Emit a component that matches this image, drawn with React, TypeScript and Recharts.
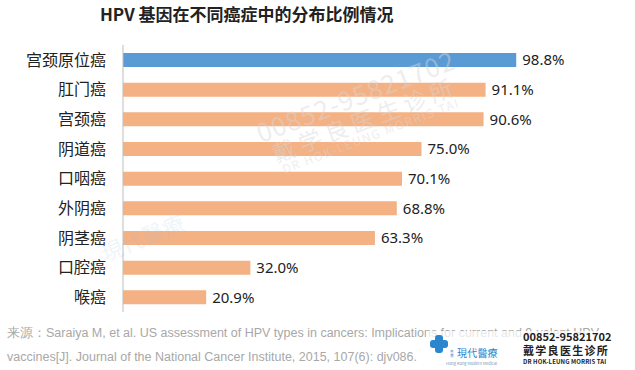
import React from "react";
import { Bar, BarChart, Cell, LabelList, XAxis, YAxis } from "recharts";

const CATEGORIES = ["宫颈原位癌", "肛门癌", "宫颈癌", "阴道癌", "口咽癌", "外阴癌", "阴茎癌", "口腔癌", "喉癌"];
const VALUES = [98.8, 91.1, 90.6, 75.0, 70.1, 68.8, 63.3, 32.0, 20.9];
const HIGHLIGHT = "宫颈原位癌";

const TITLE = "HPV 基因在不同癌症中的分布比例情况";
const SOURCE_LINE1 = "来源：Saraiya M, et al. US assessment of HPV types in cancers: Implications for current and 9-valent HPV";
const SOURCE_LINE2 = "vaccines[J]. Journal of the National Cancer Institute, 2015, 107(6): djv086.";

const BLUE = "#5b9bd5";
const ORANGE = "#f4b183";
const LOGO_BLUE = "#2a86cf";
const CJK = '"Noto Sans CJK SC", "Noto Sans", sans-serif';

const rows = CATEGORIES.map((name, i) => ({ name, value: VALUES[i] }));

const abs = (left: number, top: number, extra: React.CSSProperties = {}): React.CSSProperties => ({
  position: "absolute",
  left,
  top,
  whiteSpace: "nowrap",
  lineHeight: 1,
  ...extra,
});

export default function App() {
  return (
    <div
      style={{
        position: "absolute",
        left: 0,
        top: 0,
        width: 635,
        height: 370,
        background: "#fff",
        overflow: "hidden",
        fontFamily: CJK,
      }}
    >
      <div style={abs(100, 5, { fontSize: 17, fontWeight: 700, color: "#222" })}>{TITLE}</div>

      <div style={{ position: "absolute", left: 0, top: 45 }}>
        <BarChart
          width={635}
          height={267}
          data={rows}
          layout="vertical"
          margin={{ top: 0, right: 114, bottom: 0, left: 0 }}
          barCategoryGap={0}
        >
          <XAxis type="number" domain={[0, 100]} hide />
          <YAxis
            type="category"
            dataKey="name"
            width={123}
            axisLine={{ stroke: "#bdbdbd" }}
            tickLine={false}
            tickSize={0}
            tickMargin={17}
            tick={{ fontSize: 16, fill: "#222", fontFamily: CJK }}
          />
          <Bar dataKey="value" barSize={14} isAnimationActive={false}>
            {rows.map((r, i) => (
              <Cell key={i} fill={r.name === HIGHLIGHT ? BLUE : ORANGE} />
            ))}
            <LabelList
              dataKey="value"
              position="right"
              offset={6}
              formatter={(v: number) => v.toFixed(1) + "%"}
              style={{ fontSize: 15, fill: "#222", fontFamily: '"Noto Sans", sans-serif' }}
            />
          </Bar>
        </BarChart>
      </div>

      {/* faint watermark */}
      <div
        style={{
          position: "absolute",
          left: 252,
          top: 120,
          transform: "rotate(-21deg)",
          transformOrigin: "left top",
          color: "rgba(215,215,215,0.45)",
          textAlign: "center",
          pointerEvents: "none",
          lineHeight: 1.05,
        }}
      >
        <div style={{ fontSize: 26, letterSpacing: 1 }}>00852-95821702</div>
        <div style={{ fontSize: 23, letterSpacing: 5 }}>戴学良医生诊所</div>
        <div style={{ fontSize: 12, letterSpacing: 1.5 }}>DR HOK-LEUNG MORRIS TAI</div>
      </div>
      <div
        style={{
          position: "absolute",
          left: 95,
          top: 238,
          transform: "rotate(-22deg)",
          transformOrigin: "left top",
          color: "rgba(150,195,230,0.18)",
          fontSize: 22,
          pointerEvents: "none",
          whiteSpace: "nowrap",
        }}
      >
        現代醫療
      </div>

      <div
        style={{
          position: "absolute",
          left: 7,
          top: 321,
          fontSize: 12.5,
          color: "#a8a8a8",
          fontFamily: '"Liberation Sans Narrow", "Liberation Sans", sans-serif',
          lineHeight: "24px",
          whiteSpace: "nowrap",
        }}
      >
        <div>{SOURCE_LINE1}</div>
        <div>{SOURCE_LINE2}</div>
      </div>

      {/* logo block, laid over the end of the source line as in the original */}
      <div style={{ position: "absolute", left: 426, top: 331, width: 209, height: 39, background: "rgba(255,255,255,0.72)" }} />
      <div style={{ position: "absolute", left: 430, top: 335, width: 18, height: 18 }}>
        <div style={{ position: "absolute", left: 5, top: 0, width: 8, height: 18, background: LOGO_BLUE, borderRadius: 3 }} />
        <div style={{ position: "absolute", left: 0, top: 5, width: 18, height: 8, background: LOGO_BLUE, borderRadius: 3 }} />
      </div>
      <div style={abs(450, 350, { fontSize: 3.5, color: LOGO_BLUE, lineHeight: "4px", width: 6, whiteSpace: "normal" })}>香港</div>
      <div style={abs(457, 348, { fontSize: 10, color: LOGO_BLUE, letterSpacing: 0.2 })}>現代醫療</div>
      <div style={abs(446, 361, { fontSize: 4, color: "#7a9ab5" })}>Hong Kong Modern Medical</div>
      <div style={abs(523, 331, { fontSize: 11, fontWeight: 700, color: "#222" })}>00852-95821702</div>
      <div style={abs(523, 345, { fontSize: 11, fontWeight: 700, color: "#222", letterSpacing: 1.3 })}>戴学良医生诊所</div>
      <div style={abs(523, 359, { fontSize: 6, fontWeight: 700, color: "#222", letterSpacing: 0.1 })}>DR HOK-LEUNG MORRIS TAI</div>
    </div>
  );
}
